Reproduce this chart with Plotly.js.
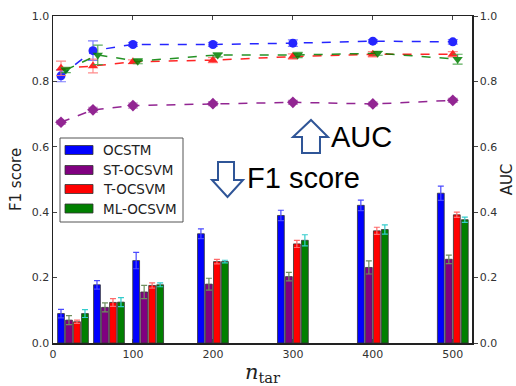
<!DOCTYPE html>
<html>
<head>
<meta charset="utf-8">
<script src="https://cdn.plot.ly/plotly-3.0.1.min.js"></script>
<style>html,body{margin:0;padding:0;background:#fff;}#chart{width:516px;height:386px;}</style>
</head>
<body>
<div id="chart"></div>
<script>
// ---- data ----
const methods = ["OCSTM", "ST-OCSVM", "T-OCSVM", "ML-OCSVM"];
const nTar = [10, 50, 100, 200, 300, 400, 500];
const barGroupCenters = [25, 70, 119, 200, 300, 400, 500];
const xTicks = [0, 100, 200, 300, 400, 500];

// F1 scores (bars)
const f1OCSTM   = [0.090, 0.178, 0.252, 0.334, 0.390, 0.421, 0.458];
const f1ST      = [0.070, 0.109, 0.156, 0.180, 0.203, 0.231, 0.256];
const f1T       = [0.065, 0.124, 0.176, 0.249, 0.303, 0.343, 0.392];
const f1ML      = [0.090, 0.125, 0.178, 0.249, 0.314, 0.347, 0.377];
const f1ErrOCSTM = [0.013, 0.013, 0.025, 0.015, 0.016, 0.016, 0.022];
const f1ErrST    = [0.014, 0.014, 0.020, 0.018, 0.013, 0.020, 0.013];
const f1ErrT     = [0.005, 0.012, 0.008, 0.007, 0.011, 0.011, 0.008];
const f1ErrML    = [0.012, 0.014, 0.006, 0.004, 0.017, 0.014, 0.008];

// AUC (lines)
const aucOCSTM = [0.817, 0.894, 0.913, 0.913, 0.917, 0.923, 0.921];
const aucST    = [0.675, 0.713, 0.726, 0.732, 0.736, 0.731, 0.742];
const aucT     = [0.840, 0.847, 0.860, 0.865, 0.876, 0.883, 0.883];
const aucML    = [0.835, 0.881, 0.862, 0.881, 0.881, 0.886, 0.868];
const aucErrOCSTM = [0.018, 0.030, 0.006, 0.006, 0.010, 0.005, 0.007];
const aucErrST    = [0.006, 0.008, 0.008, 0.006, 0.006, 0.006, 0.006];
const aucErrT     = [0.022, 0.021, 0.006, 0.008, 0.008, 0.008, 0.008];
const aucErrML    = [0.008, 0.030, 0.008, 0.006, 0.008, 0.006, 0.015];

// ---- styles ----
const colors = ["#0000ff", "#800080", "#ff0000", "#008000"];
const barErrColors = ["#4a4aff", "#6f8f5f", "#ff6a6a", "#33cccc"];
const lineErrColors = ["#6a6aff", "#c080c0", "#ff7a7a", "#40a040"];
const symbols = ["circle", "diamond", "triangle-up", "triangle-down"];
const barOffsets = [-15, -5, 5, 15];
const lineOffsets = [0, 0, 0, 6];

const f1Vals = [f1OCSTM, f1ST, f1T, f1ML];
const f1Errs = [f1ErrOCSTM, f1ErrST, f1ErrT, f1ErrML];
const aucVals = [aucOCSTM, aucST, aucT, aucML];
const aucErrs = [aucErrOCSTM, aucErrST, aucErrT, aucErrML];

const traces = [];
methods.forEach((m, i) => {
  traces.push({
    type: "bar", name: m, showlegend: false,
    x: barGroupCenters.map(c => c + barOffsets[i]),
    y: f1Vals[i], width: 8.5,
    marker: {color: colors[i], line: {color: "#333333", width: 0.8}},
    error_y: {type: "data", array: f1Errs[i], color: barErrColors[i], thickness: 1.2, width: 3},
    xaxis: "x", yaxis: "y"
  });
});
methods.forEach((m, i) => {
  traces.push({
    type: "scatter", mode: "lines+markers", name: m + " AUC", showlegend: false,
    x: nTar.map(n => n + lineOffsets[i]), y: aucVals[i],
    line: {color: colors[i], dash: "dash", width: 1.5},
    opacity: 0.85,
    marker: {color: colors[i], symbol: symbols[i], size: 9},
    error_y: {type: "data", array: aucErrs[i], color: lineErrColors[i], thickness: 1.2, width: 5},
    xaxis: "x", yaxis: "y2"
  });
});

// plot area in pixels
const L = 53, R = 472, T = 16, B = 343;
const px = x => (x - L) / (R - L);
const py = y => (B - y) / (B - T);
const path = pts => "M" + pts.map(p => px(p[0]).toFixed(4) + "," + py(p[1]).toFixed(4)).join(" L") + " Z";

const arrowColor = "#2F5597";
const upArrow = path([[311,120],[328,137],[320,137],[320,153],[302,153],[302,137],[293,137]]);
const downArrow = path([[218,162],[234,162],[234,180],[243,180],[227.5,197],[212,180],[218,180]]);

const shapes = [
  {type: "path", xref: "paper", yref: "paper", path: upArrow, line: {color: arrowColor, width: 2}, fillcolor: "#ffffff"},
  {type: "path", xref: "paper", yref: "paper", path: downArrow, line: {color: arrowColor, width: 2}, fillcolor: "#ffffff"},
  // legend box
  {type: "rect", xref: "paper", yref: "paper", x0: px(60), x1: px(183), y0: py(222), y1: py(138),
   line: {color: "#555555", width: 1}, fillcolor: "#ffffff"}
];
const annotations = [
  {xref: "paper", yref: "paper", x: px(329), y: py(137), xanchor: "left", yanchor: "middle", showarrow: false,
   text: "AUC", font: {family: "Liberation Sans, Arial", size: 29, color: "#000"}},
  {xref: "paper", yref: "paper", x: px(245), y: py(178), xanchor: "left", yanchor: "middle", showarrow: false,
   text: "F1 score", font: {family: "Liberation Sans, Arial", size: 29, color: "#000"}}
];
const legendY = [150, 170, 189, 208.5];
methods.forEach((m, i) => {
  shapes.push({type: "rect", xref: "paper", yref: "paper", x0: px(65), x1: px(93), y0: py(legendY[i] + 4.5), y1: py(legendY[i] - 4.5),
    line: {color: "#333333", width: 0.8}, fillcolor: colors[i]});
  annotations.push({xref: "paper", yref: "paper", x: px(101), y: py(legendY[i]), xanchor: "left", yanchor: "middle",
    showarrow: false, text: m, font: {family: "DejaVu Sans", size: 13.5, color: "#222"}});
});

const tickFont = {family: "DejaVu Sans", size: 11, color: "#333"};
const layout = {
  width: 516, height: 386,
  margin: {l: L, r: 516 - R, t: T, b: 386 - B},
  paper_bgcolor: "#ffffff", plot_bgcolor: "#ffffff",
  showlegend: false,
  barmode: "overlay",
  xaxis: {range: [0, 524], tickvals: xTicks, ticktext: xTicks.map(String), ticks: "inside", ticklen: 4,
    showline: true, mirror: "ticks", linecolor: "#222", linewidth: 1.5, showgrid: false, zeroline: false,
    tickfont: tickFont,
    title: {text: "<i>n</i><sub>tar</sub>", font: {family: "DejaVu Serif", size: 21, color: "#222"}, standoff: 4}},
  yaxis: {range: [0, 1], dtick: 0.2, tickformat: ".1f", ticks: "inside", ticklen: 4,
    showline: true, linecolor: "#222", linewidth: 1.5, showgrid: false, zeroline: false,
    tickfont: tickFont,
    title: {text: "F1 score", font: {family: "DejaVu Sans", size: 15, color: "#222"}, standoff: 6}},
  yaxis2: {range: [0, 1], dtick: 0.2, tickformat: ".1f", overlaying: "y", side: "right", ticks: "outside", ticklen: 4,
    showline: true, linecolor: "#222", linewidth: 1.5, showgrid: false, zeroline: false,
    tickfont: tickFont,
    title: {text: "AUC", font: {family: "DejaVu Sans", size: 15, color: "#222"}, standoff: 6}},
  shapes: shapes,
  annotations: annotations
};

Plotly.newPlot("chart", traces, layout, {displayModeBar: false, staticPlot: true});
</script>
</body>
</html>
